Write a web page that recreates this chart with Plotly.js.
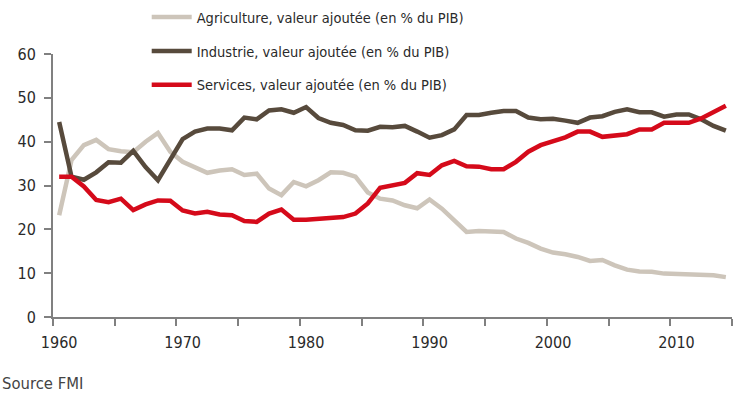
<!DOCTYPE html>
<html>
<head>
<meta charset="utf-8">
<script src="https://cdn.plot.ly/plotly-3.0.1.min.js"></script>
<style>
  html, body { margin: 0; padding: 0; background: #fff; }
  #chart { width: 739px; height: 395px; }
</style>
</head>
<body>
<div id="chart"></div>
<script>
const years = [];
for (let y = 1960; y <= 2014; y++) years.push(y);

const agriculture = [
  23.2, 35.8, 39.2, 40.4, 38.3, 37.8, 37.6, 40.0, 42.0, 37.7,
  35.4, 34.1, 32.9, 33.4, 33.7, 32.4, 32.7, 29.3, 27.8, 30.8,
  29.8, 31.2, 33.0, 32.9, 32.0, 28.4, 27.0, 26.6, 25.5, 24.8,
  26.8, 24.7, 22.1, 19.4, 19.6, 19.6, 19.4, 17.9, 16.9, 15.6,
  14.7, 14.3, 13.7, 12.8, 13.0, 11.8, 10.8, 10.4, 10.3, 9.9,
  9.8, 9.7, 9.6, 9.5, 9.1
];

const industrie = [
  44.5, 32.0, 31.3, 33.0, 35.3, 35.2, 37.9, 34.2, 31.2, 35.8,
  40.6, 42.3, 43.0, 43.0, 42.6, 45.5, 45.1, 47.1, 47.4, 46.6,
  47.9, 45.4, 44.3, 43.8, 42.6, 42.5, 43.4, 43.3, 43.6, 42.3,
  40.9, 41.5, 42.8, 46.1, 46.1, 46.6, 47.0, 47.0, 45.5, 45.1,
  45.2, 44.8, 44.3, 45.5, 45.8, 46.8, 47.4, 46.7, 46.7, 45.7,
  46.2, 46.2, 45.1, 43.6, 42.5
];

const services = [
  32.0, 32.0, 29.8, 26.7, 26.2, 27.0, 24.4, 25.7, 26.6, 26.5,
  24.3, 23.6, 24.0, 23.4, 23.2, 21.9, 21.7, 23.6, 24.5, 22.2,
  22.2, 22.4, 22.8, 22.8, 23.6, 25.9, 29.5, 30.1, 30.6, 32.8,
  32.4, 34.6, 35.6, 34.4, 34.3, 33.7, 33.7, 35.4, 37.7, 39.2,
  40.0, 41.0, 42.3, 42.3, 41.1, 41.3, 41.7, 42.8, 42.8, 44.3,
  44.2, 44.3, 45.3, 46.8, 48.2
];

const seriesNames = [
  'Agriculture, valeur ajoutée (en % du PIB)',
  'Industrie, valeur ajoutée (en % du PIB)',
  'Services, valeur ajoutée (en % du PIB)'
];
const labelYears = [1960, 1970, 1980, 1990, 2000, 2010];
const boundaryTicks = [1959.5, 1964.5, 1969.5, 1974.5, 1979.5, 1984.5, 1989.5, 1994.5, 1999.5, 2004.5, 2009.5, 2014.5];
const yTicks = [0, 10, 20, 30, 40, 50, 60];
const sourceText = 'Source FMI';

const FONT = '"DejaVu Sans Condensed", "Liberation Sans Narrow", sans-serif';
const colors = ['#cdc5ba', '#574a3c', '#d50a1a'];
const dataSets = [agriculture, industrie, services];

const traces = dataSets.map((vals, i) => ({
  type: 'scatter',
  mode: 'lines',
  x: years,
  y: vals,
  name: seriesNames[i],
  legendgroup: 'g' + i,
  line: { color: colors[i], width: 4.5 },
  hoverinfo: 'x+y'
}));

const axisGray = '#808080';

const layout = {
  width: 739,
  height: 395,
  margin: { l: 53, r: 7, t: 54, b: 78, autoexpand: false },
  paper_bgcolor: '#ffffff',
  plot_bgcolor: '#ffffff',
  font: { family: FONT, size: 16, color: '#2a2a2a' },
  showlegend: true,
  legend: {
    x: 0.138, xanchor: 'left',
    y: 1.201, yanchor: 'top',
    traceorder: 'grouped',
    tracegroupgap: 12,
    font: { family: FONT, size: 14.5, color: '#2a2a2a' },
    bgcolor: 'rgba(0,0,0,0)',
    itemwidth: 40
  },
  xaxis: {
    type: 'linear',
    range: [1959.5, 2014.5],
    tickmode: 'array',
    tickvals: labelYears,
    ticktext: labelYears.map(String),
    ticks: '',
    ticklabelstandoff: 10,
    showline: true,
    linecolor: axisGray,
    linewidth: 2,
    showgrid: false,
    zeroline: false,
    tickfont: { family: FONT, size: 16, color: '#2a2a2a' },
    minor: {
      tickmode: 'array',
      tickvals: boundaryTicks,
      ticks: 'outside',
      ticklen: 7,
      tickwidth: 2,
      tickcolor: axisGray,
      showgrid: false
    },
    fixedrange: true
  },
  yaxis: {
    range: [0, 60],
    tickmode: 'array',
    tickvals: yTicks,
    ticks: 'outside',
    ticklen: 7,
    tickwidth: 2,
    tickcolor: axisGray,
    ticklabelstandoff: 5,
    showline: true,
    linecolor: axisGray,
    linewidth: 2,
    showgrid: false,
    zeroline: false,
    tickfont: { family: FONT, size: 16, color: '#2a2a2a' },
    fixedrange: true
  },
  annotations: [{
    text: sourceText,
    xref: 'paper', yref: 'paper',
    x: -0.078, xanchor: 'left',
    y: -0.252, yanchor: 'middle',
    showarrow: false,
    font: { family: FONT, size: 16.5, color: '#444444' }
  }]
};

Plotly.newPlot('chart', traces, layout, { displayModeBar: false, staticPlot: true });
</script>
</body>
</html>
